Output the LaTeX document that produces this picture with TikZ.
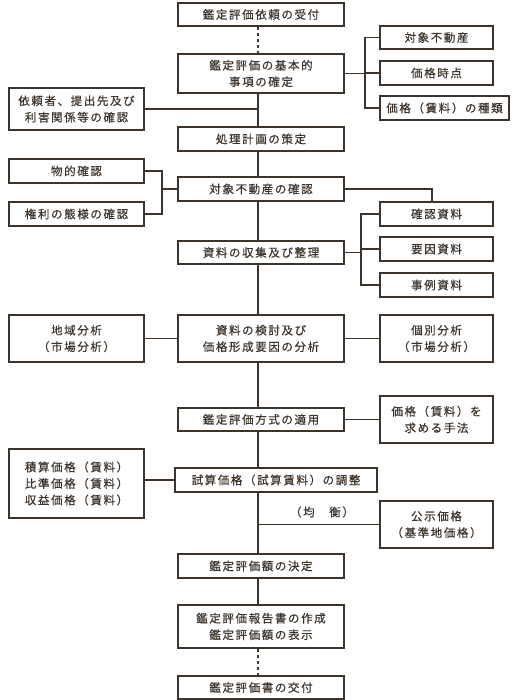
\documentclass[tikz,border=0pt]{standalone}
\usepackage{fontspec}
\setmainfont{Noto Sans CJK JP}[LetterSpace=14, FakeBold=0.5]
\definecolor{ink}{HTML}{3D342C}
\begin{document}
\begin{tikzpicture}[x=1pt, y=-1pt, line width=1.2pt, draw=ink,
    box/.style={draw=ink, text=ink, inner sep=0pt, align=center,
        font=\fontsize{11.5pt}{16.5pt}\selectfont},
    mainbox/.style={box, minimum width=166pt, minimum height=23pt},
    sidebox/.style={box, minimum width=113pt, minimum height=24pt},
    leftbox/.style={box, minimum width=135pt, minimum height=24pt}]
    \useasboundingbox (0,0) rectangle (519,700);
    % main column
    \node[mainbox] (b1) at (261,14.5) {鑑定評価依頼の受付};
    \node[mainbox, minimum height=39pt] (b2) at (261,73.5) {鑑定評価の基本的\\事項の確定};
    \node[mainbox, minimum height=24pt] (b3) at (261,139) {処理計画の策定};
    \node[mainbox, minimum height=24pt] (b4) at (261,189) {対象不動産の確認};
    \node[mainbox] (b5) at (261,252.5) {資料の収集及び整理};
    \node[mainbox, minimum height=47pt] (b6) at (261,338.5) {資料の検討及び\\価格形成要因の分析};
    \node[mainbox] (b7) at (261,419.5) {鑑定評価方式の適用};
    \node[mainbox, minimum width=202pt, minimum height=24pt] (b8) at (276,480) {試算価格（試算賃料）の調整};
    \node[mainbox, minimum height=24pt] (b9) at (261,566) {鑑定評価額の決定};
    \node[mainbox, minimum height=43pt] (b10) at (261,626.5) {鑑定評価報告書の作成\\鑑定評価額の表示};
    \node[mainbox] (b11) at (261,687.5) {鑑定評価書の交付};
    % right side
    \node[sidebox, minimum height=23pt] (r1) at (436.5,37.5) {対象不動産};
    \node[sidebox] (r2) at (436.5,73) {価格時点};
    \node[sidebox, minimum width=129pt] (r3) at (444.5,108) {価格（賃料）の種類};
    \node[sidebox] (r4) at (436.5,214) {確認資料};
    \node[sidebox] (r5) at (436.5,249) {要因資料};
    \node[sidebox] (r6) at (436.5,285) {事例資料};
    \node[sidebox, minimum height=47pt] (r7) at (436.5,338.5) {個別分析\\（市場分析）};
    \node[sidebox, minimum height=47pt] (r8) at (436.5,419.5) {価格（賃料）を\\求める手法};
    \node[sidebox, minimum height=47pt] (r9) at (436.5,524.5) {公示価格\\（基準地価格）};
    % left side
    \node[leftbox, minimum height=42pt] (l1) at (76.5,109) {依頼者、提出先及び\\利害関係等の確認};
    \node[leftbox] (l2) at (76.5,171) {物的確認};
    \node[leftbox] (l3) at (76.5,214) {権利の態様の確認};
    \node[leftbox, minimum height=47pt] (l4) at (76.5,338.5) {地域分析\\（市場分析）};
    \node[leftbox, minimum height=69pt] (l5) at (76.5,483.5) {積算価格（賃料）\\比準価格（賃料）\\収益価格（賃料）};
    \node[text=ink, inner sep=0pt, font=\fontsize{11.5pt}{16.5pt}\selectfont] (bal) at (322,512) {（均　衡）};
    % bends of the connectors
    \coordinate (sp) at (258,0);
    \coordinate (k1) at (365,0);
    \coordinate (k2) at (162,0);
    \coordinate (k3) at (361,0);
    \coordinate (k4) at (432,0);
    % spine
    \draw[dashed] (b1.south -| sp) -- (b2.north -| sp);
    \draw (b2.south -| sp) -- (b3.north -| sp)
        (b3.south -| sp) -- (b4.north -| sp)
        (b4.south -| sp) -- (b5.north -| sp)
        (b5.south -| sp) -- (b6.north -| sp)
        (b6.south -| sp) -- (b7.north -| sp)
        (b7.south -| sp) -- (b8.north -| sp)
        (b8.south -| sp) -- (b9.north -| sp)
        (b9.south -| sp) -- (b10.north -| sp);
    \draw[dashed] (b10.south -| sp) -- (b11.north -| sp);
    % branches
    \draw (b2.east) -- (b2.east -| k1)
        (r1.west) -- (r1.west -| k1) -- (r3.west -| k1) -- (r3.west)
        (r2.west) -- (r2.west -| k1);
    \draw (l1.east) -- (l1.east -| sp);
    \draw (l2.east) -- (l2.east -| k2) -- (l3.east -| k2) -- (l3.east)
        (b4.west) -- (b4.west -| k2);
    \draw (b4.east) -- (b4.east -| k4) -- (r4.north -| k4);
    \draw (b5.east) -- (b5.east -| k3)
        (r4.west) -- (r4.west -| k3) -- (r6.west -| k3) -- (r6.west)
        (r5.west) -- (r5.west -| k3);
    \draw (l4.east) -- (b6.west)
        (b6.east) -- (r7.west);
    \draw (b7.east) -- (r8.west);
    \draw (b8.west) -- (b8.west -| l5.east);
    \draw (r9.west -| sp) -- (r9.west);
\end{tikzpicture}
\end{document}
